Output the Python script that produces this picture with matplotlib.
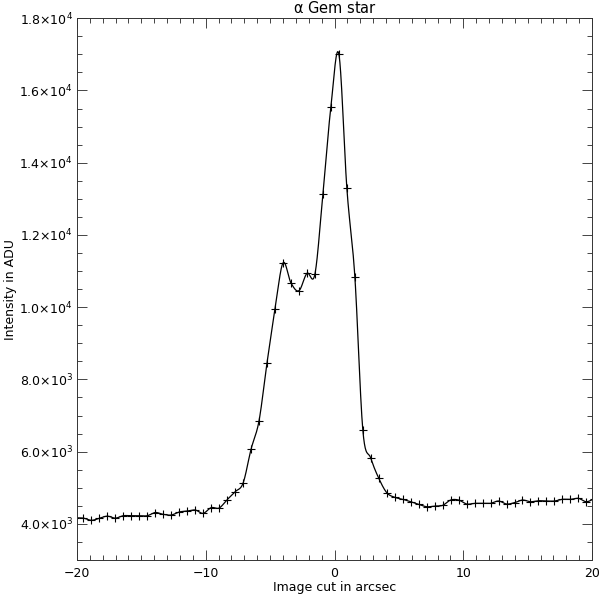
import numpy as np
import matplotlib
matplotlib.use("Agg")
import matplotlib.pyplot as plt
from matplotlib.ticker import FixedLocator, MultipleLocator

plt.rcParams['font.family'] = ['DejaVu Sans']
plt.rcParams['mathtext.default'] = 'regular'

# positions along the cut (arcsec) and intensity (ADU)
cut_pos = [-20.12, -19.50, -18.88, -18.26, -17.64, -17.02, -16.40, -15.78, -15.16, -14.54,
           -13.92, -13.30, -12.68, -12.06, -11.44, -10.82, -10.20, -9.58, -8.96, -8.34,
           -7.72, -7.10, -6.48, -5.86, -5.24, -4.62, -4.00, -3.38, -2.76, -2.14,
           -1.52, -0.90, -0.28, 0.34, 0.96, 1.58, 2.20, 2.82, 3.44, 4.06,
           4.68, 5.30, 5.92, 6.54, 7.16, 7.78, 8.40, 9.02, 9.64, 10.26,
           10.88, 11.50, 12.12, 12.74, 13.36, 13.98, 14.60, 15.22, 15.84, 16.46,
           17.08, 17.70, 18.32, 18.94, 19.56, 20.18]
intensity = [4170, 4160, 4100, 4155, 4215, 4160, 4227, 4227, 4227, 4227,
             4315, 4265, 4246, 4330, 4357, 4385, 4293, 4450, 4440, 4670,
             4890, 5130, 6070, 6857, 8464, 9942, 11225, 10670, 10457, 10939,
             10919, 13135, 15552, 17003, 13293, 10845, 6600, 5816, 5262, 4864,
             4736, 4681, 4614, 4542, 4476, 4495, 4514, 4661, 4661, 4551,
             4570, 4570, 4570, 4634, 4551, 4588, 4661, 4614, 4642, 4634,
             4634, 4681, 4681, 4708, 4614, 4700]

xticks = [-20, -10, 0, 10, 20]
xtick_labels = ['\u221220', '\u221210', '0', '10', '20']
yticks = [4000, 6000, 8000, 10000, 12000, 14000, 16000, 18000]
ytick_labels = [r'4.0$\times$10$^{3}$', r'6.0$\times$10$^{3}$', r'8.0$\times$10$^{3}$',
                r'1.0$\times$10$^{4}$', r'1.2$\times$10$^{4}$', r'1.4$\times$10$^{4}$',
                r'1.6$\times$10$^{4}$', r'1.8$\times$10$^{4}$']


def smooth_line(x, y, per_seg=40):
    # catmull-rom curve through the samples (local, less ringing than a full spline)
    x = np.asarray(x, float)
    y = np.asarray(y, float)
    yp = np.concatenate([[2 * y[0] - y[1]], y, [2 * y[-1] - y[-2]]])
    t = np.linspace(0, 1, per_seg, endpoint=False)
    xs, ys = [], []
    for i in range(len(x) - 1):
        p0, p1, p2, p3 = yp[i], yp[i + 1], yp[i + 2], yp[i + 3]
        m1 = (p2 - p0) / 2
        m2 = (p3 - p1) / 2
        h00 = 2 * t**3 - 3 * t**2 + 1
        h10 = t**3 - 2 * t**2 + t
        h01 = -2 * t**3 + 3 * t**2
        h11 = t**3 - t**2
        ys.append(h00 * p1 + h10 * m1 + h01 * p2 + h11 * m2)
        xs.append(x[i] + t * (x[i + 1] - x[i]))
    xs.append([x[-1]])
    ys.append([y[-1]])
    return np.concatenate(xs), np.concatenate(ys)


fig = plt.figure(figsize=(6, 5.98), dpi=100)
ax = fig.add_axes([0.1283, 0.0635, 0.8584, 0.906])

lx, ly = smooth_line(cut_pos, intensity)
ax.plot(lx, ly, color='black', lw=0.9)
ax.plot(cut_pos, intensity, ls='none', marker='+', ms=6, mew=0.8, color='black')

ax.set_xlim(-20, 20)
ax.set_ylim(3000, 18000)
ax.xaxis.set_major_locator(FixedLocator(xticks))
ax.set_xticklabels(xtick_labels)
ax.xaxis.set_minor_locator(MultipleLocator(1))
ax.yaxis.set_major_locator(FixedLocator(yticks))
ax.set_yticklabels(ytick_labels)
ax.yaxis.set_minor_locator(MultipleLocator(500))

ax.tick_params(which='both', direction='in', top=True, right=True, width=0.7,
               color='#444444', labelsize=9)
ax.tick_params(which='major', length=7.2)
ax.tick_params(which='minor', length=3.6)
ax.tick_params(axis='x', pad=5)
ax.tick_params(axis='y', pad=3)
for sp in ax.spines.values():
    sp.set_linewidth(0.7)
    sp.set_color('#333333')

ax.set_title(r'$\alpha$ Gem star', fontsize=10.5, pad=4)
ax.set_xlabel('Image cut in arcsec', fontsize=9, labelpad=1)
ax.set_ylabel('Intensity in ADU', fontsize=9, labelpad=2)

fig.savefig('out.png', dpi=100)
